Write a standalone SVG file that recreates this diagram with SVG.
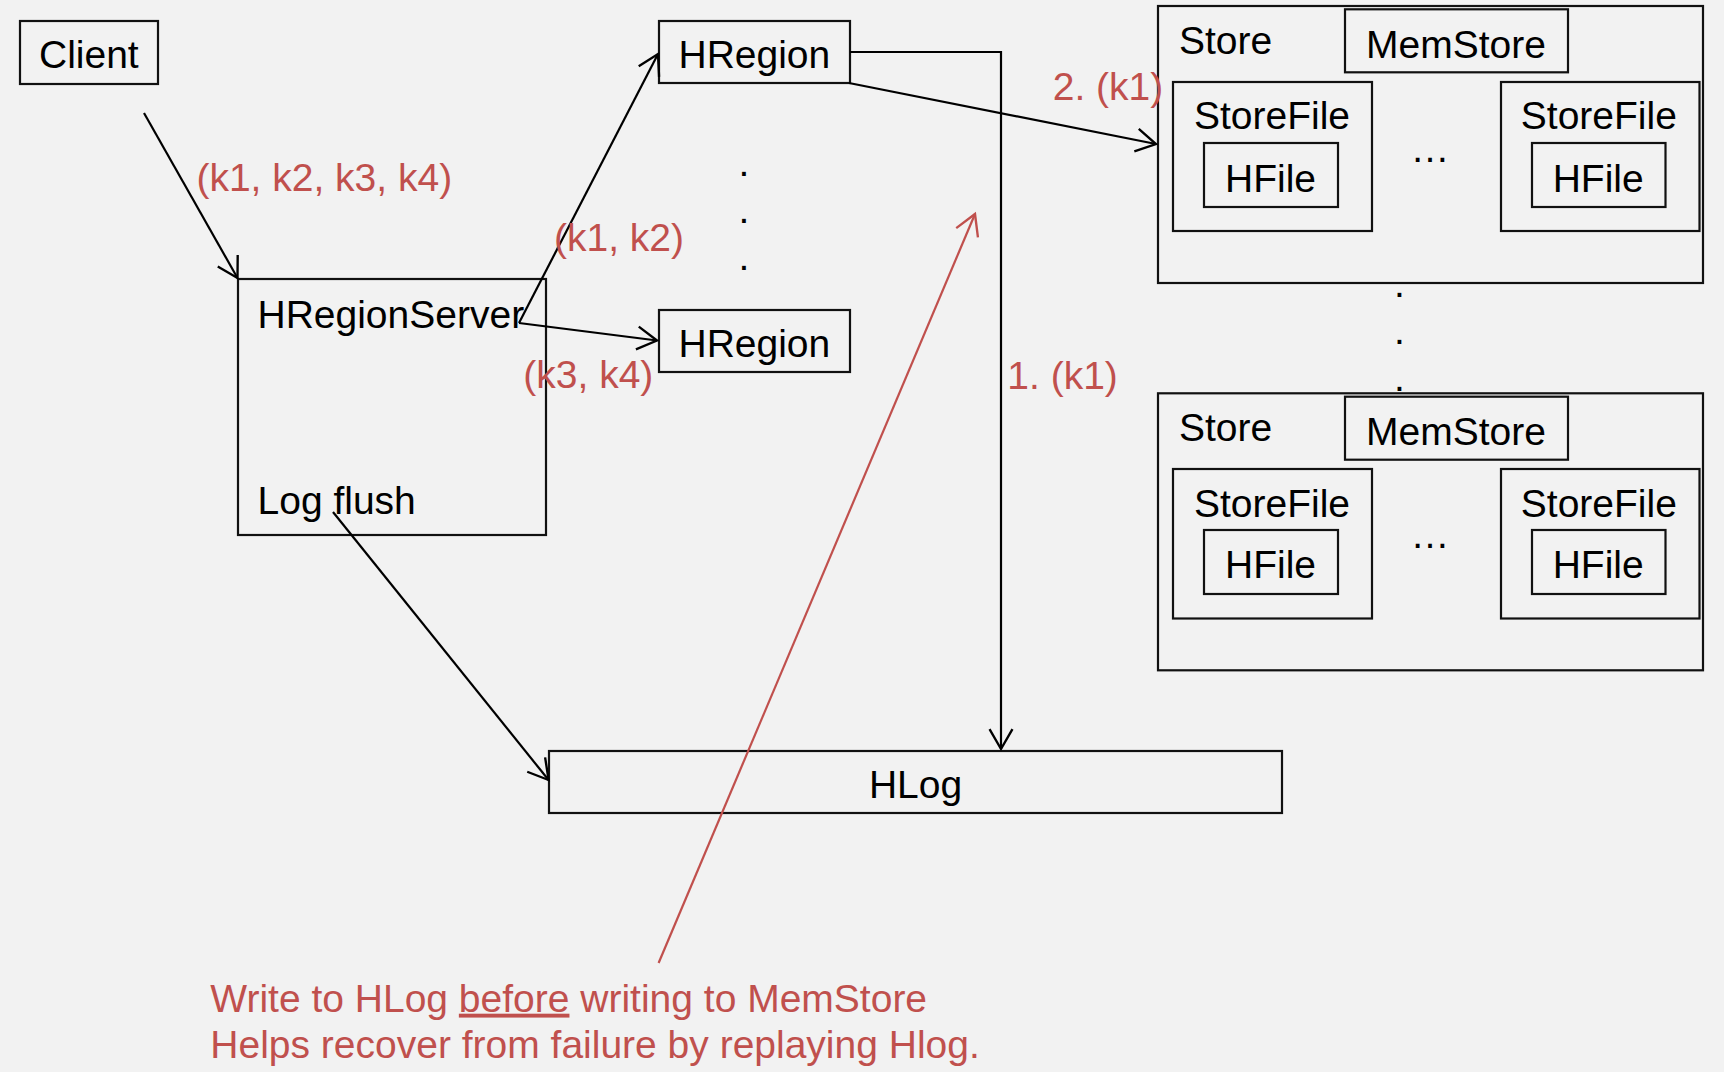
<svg xmlns="http://www.w3.org/2000/svg" width="1724" height="1072" viewBox="0 0 1724 1072">
<style>
.box{fill:none;stroke:#111;stroke-width:2.2}
.t{font-family:"Liberation Sans",Arial,Helvetica,sans-serif;font-size:39px;fill:#000}
.r{font-family:"Liberation Sans",Arial,Helvetica,sans-serif;font-size:39px;fill:#c0504d}
.c{fill:none;stroke:#000;stroke-width:2.2}
.cr{fill:none;stroke:#c0504d;stroke-width:2.2}
</style>
<defs>
<marker id="ab" markerUnits="userSpaceOnUse" markerWidth="30" markerHeight="30" refX="0" refY="0" viewBox="-22 -14 26 28" orient="auto" overflow="visible">
<path d="M -18.5 -10.7 L 0 0 L -18.5 10.7" fill="none" stroke="#000" stroke-width="2.2"/>
</marker>
<marker id="ar" markerUnits="userSpaceOnUse" markerWidth="30" markerHeight="30" refX="0" refY="0" viewBox="-22 -14 26 28" orient="auto" overflow="visible">
<path d="M -19 -11 L 0 0 L -19 11" fill="none" stroke="#c0504d" stroke-width="2.2"/>
</marker>
</defs>
<rect x="0" y="0" width="1724" height="1072" fill="#f2f2f2"/>

<g id="client">
<rect class="box" x="20" y="21" width="138" height="63"/>
<text class="t" x="39" y="68">Client</text>
</g>

<g id="hregionserver">
<rect class="box" x="238" y="279" width="308" height="256"/>
<text class="t" x="257.5" y="327.5">HRegionServer</text>
<text class="t" x="257.5" y="514">Log flush</text>
</g>

<g id="hregion1">
<rect class="box" x="659" y="21" width="191" height="62"/>
<text class="t" x="678.5" y="68">HRegion</text>
</g>

<g id="hregion-dots">
<text class="t" x="744" y="176" text-anchor="middle">.</text>
<text class="t" x="744" y="223" text-anchor="middle">.</text>
<text class="t" x="744" y="270" text-anchor="middle">.</text>
</g>

<g id="hregion2">
<rect class="box" x="659" y="310" width="191" height="62"/>
<text class="t" x="678.5" y="357">HRegion</text>
</g>

<g id="hlog">
<rect class="box" x="549" y="751" width="733" height="62"/>
<text class="t" x="915.5" y="798" text-anchor="middle">HLog</text>
</g>

<g id="store1">
<rect class="box" x="1158" y="6" width="545" height="277"/>
<text class="t" x="1179" y="54.3">Store</text>
<g id="memstore1">
<rect class="box" x="1345" y="9.3" width="223" height="63"/>
<text class="t" x="1366" y="58.3">MemStore</text>
</g>
<g id="storefile1a">
<rect class="box" x="1173" y="82" width="199" height="149"/>
<text class="t" x="1194" y="129.3">StoreFile</text>
<g id="hfile1a">
<rect class="box" x="1204" y="143" width="134" height="64"/>
<text class="t" x="1225" y="191.7">HFile</text>
</g>
</g>
<text class="t" x="1430" y="161.5" text-anchor="middle">…</text>
<g id="storefile1b">
<rect class="box" x="1501" y="82" width="198.5" height="149"/>
<text class="t" x="1520.8" y="129.3">StoreFile</text>
<g id="hfile1b">
<rect class="box" x="1532" y="143" width="133.5" height="64"/>
<text class="t" x="1552.7" y="191.7">HFile</text>
</g>
</g>
</g>

<g id="store-dots">
<text class="t" x="1399.3" y="297" text-anchor="middle">.</text>
<text class="t" x="1399.3" y="344" text-anchor="middle">.</text>
<text class="t" x="1399.3" y="390.5" text-anchor="middle">.</text>
</g>

<g id="store2">
<rect class="box" x="1158" y="393.3" width="545" height="277"/>
<text class="t" x="1179" y="441">Store</text>
<g id="memstore2">
<rect class="box" x="1345" y="396.7" width="223" height="63"/>
<text class="t" x="1366" y="445">MemStore</text>
</g>
<g id="storefile2a">
<rect class="box" x="1173" y="469" width="199" height="149.5"/>
<text class="t" x="1194" y="516.7">StoreFile</text>
<g id="hfile2a">
<rect class="box" x="1204" y="530" width="134" height="64"/>
<text class="t" x="1225" y="578.3">HFile</text>
</g>
</g>
<text class="t" x="1430" y="547.6" text-anchor="middle">…</text>
<g id="storefile2b">
<rect class="box" x="1501" y="469" width="198.5" height="149.5"/>
<text class="t" x="1520.8" y="516.7">StoreFile</text>
<g id="hfile2b">
<rect class="box" x="1532" y="530" width="133.5" height="64"/>
<text class="t" x="1552.7" y="578.3">HFile</text>
</g>
</g>
</g>

<g id="connectors">
<line class="c" x1="144" y1="113" x2="237.5" y2="278" marker-end="url(#ab)"/>
<line class="c" x1="519" y1="323" x2="658" y2="54" marker-end="url(#ab)"/>
<line class="c" x1="519" y1="323" x2="657" y2="340.5" marker-end="url(#ab)"/>
<polyline class="c" points="850,52 1001,52 1001,749" marker-end="url(#ab)"/>
<line class="c" x1="849" y1="83" x2="1156" y2="144" marker-end="url(#ab)"/>
<line class="c" x1="333" y1="512" x2="548.6" y2="780" marker-end="url(#ab)"/>
<line class="cr" x1="658.6" y1="963" x2="975" y2="214" marker-end="url(#ar)"/>
</g>

<g id="labels">
<text class="r" x="196.4" y="190.7">(k1, k2, k3, k4)</text>
<text class="r" x="554" y="251">(k1, k2)</text>
<text class="r" x="523.3" y="388.3">(k3, k4)</text>
<text class="r" x="1052.7" y="100">2. (k1)</text>
<text class="r" x="1007.3" y="389">1. (k1)</text>
<text class="r" x="210.3" y="1011.7">Write to HLog <tspan text-decoration="underline" style="text-decoration:underline">before</tspan> writing to MemStore</text>
<text class="r" x="210.3" y="1058.3">Helps recover from failure by replaying Hlog.</text>
</g>
</svg>
